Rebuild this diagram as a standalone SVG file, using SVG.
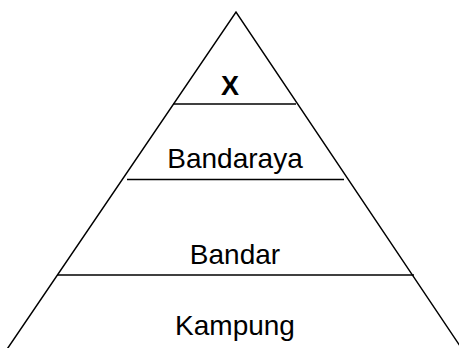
<svg xmlns="http://www.w3.org/2000/svg" width="459" height="348" viewBox="0 0 459 348">
<style>
.l{stroke:#000;stroke-width:1.5;fill:none}
.t{font-family:"Liberation Sans",Arial,sans-serif;font-size:28px;fill:#000;text-anchor:middle}
</style>
<rect width="459" height="348" fill="#fff"/>
<g id="pyramid">
<polyline class="l" points="5.8,351 236,12 460,346"/>
</g>
<g id="connectors">
<line class="l" x1="173" y1="104" x2="296" y2="104"/>
<line class="l" x1="127" y1="179.5" x2="344" y2="179.5"/>
<line class="l" x1="57" y1="275" x2="414" y2="275"/>
</g>
<g id="x"><text class="t" x="230" y="95" style="font-weight:bold;font-size:27px">X</text></g>
<g id="bandaraya"><text class="t" x="235" y="168">Bandaraya</text></g>
<g id="bandar"><text class="t" x="235" y="264">Bandar</text></g>
<g id="kampung"><text class="t" x="235" y="335">Kampung</text></g>
</svg>
